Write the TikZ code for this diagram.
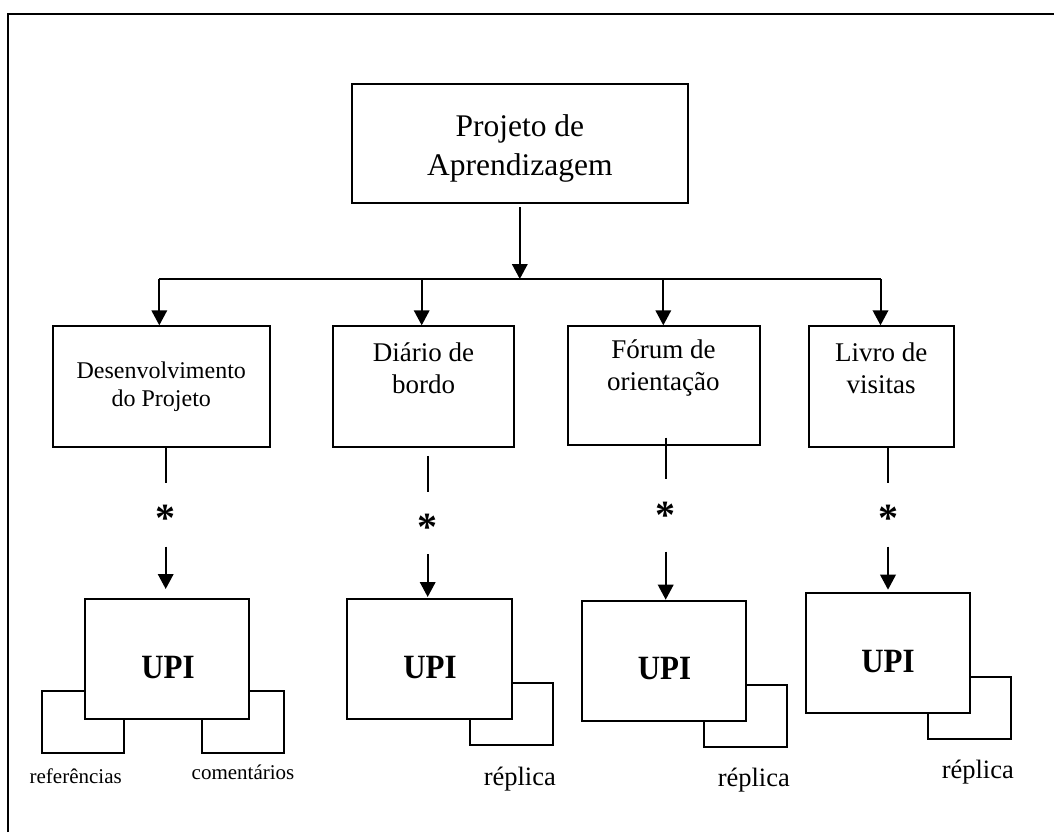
\documentclass[tikz,border=0pt]{standalone}
\usepackage{fontspec}
\setmainfont{Liberation Serif}
\usetikzlibrary{arrows.meta}
\begin{document}
\begin{tikzpicture}[x=1pt,y=-1pt,
  line width=2pt,
  box/.style={draw, line width=2pt, inner sep=0pt, fill=white},
  lbl/.style={inner sep=0pt, align=center},
  arr/.style={-{Triangle[length=15pt,width=15.5pt]}},
  ast/.style={inner sep=0pt, anchor=base, font=\fontsize{40}{40}\selectfont\bfseries},
  upi/.style={inner sep=0pt, anchor=base, font=\fontsize{34}{34}\selectfont\bfseries},
  small/.style={inner sep=0pt, anchor=base, font=\fontsize{21}{21}\selectfont},
  rep/.style={inner sep=0pt, anchor=base, font=\fontsize{26.5}{26.5}\selectfont},
]
\useasboundingbox (0,0) rectangle (1054,832);
\draw (8.3,832) -- (8.3,14) -- (1054,14);

% top box
\node[box, minimum width=336.4pt, minimum height=118.1pt] (top) at (519.8,143.45) {};
\node[lbl, font=\fontsize{31.5}{38.3}\selectfont] (ttop) at (519.8,148.6) {Projeto de\\Aprendizagem};

% second row boxes
\node[box, minimum width=216.4pt, minimum height=120.5pt] (b1) at (161.3,386.55) {};
\node[box, minimum width=180.1pt, minimum height=120.5pt] (b2) at (423.45,386.55) {};
\node[box, minimum width=191.8pt, minimum height=118.7pt] (b3) at (663.9,385.65) {};
\node[box, minimum width=144.7pt, minimum height=120.7pt] (b4) at (881.65,386.65) {};
\node[lbl, font=\fontsize{24}{27.6}\selectfont] (t1) at (161.3,386.7) {Desenvolvimento\\do Projeto};
\node[lbl, font=\fontsize{27}{32.4}\selectfont] (t2) at (423.5,368) {Diário de\\bordo};
\node[lbl, font=\fontsize{27}{32.4}\selectfont] (t3) at (663.4,368) {Fórum de\\orientação};
\node[lbl, font=\fontsize{27}{32.4}\selectfont] (t4) at (881.2,368) {Livro de\\visitas};

% connectors top
\coordinate (j) at (519.8,279);
\coordinate (d1) at (159.3,279);
\coordinate (d2) at (421.7,279);
\coordinate (d3) at (663.3,279);
\coordinate (d4) at (880.5,279);
\draw[arr, shorten <=3.5pt] (top.south) -- (j);
\draw (d1) -- (d4);
\draw[arr] (d1) -- (d1 |- b1.north);
\draw[arr] (d2) -- (d2 |- b2.north);
\draw[arr] (d3) -- (d3 |- b3.north);
\draw[arr] (d4) -- (d4 |- b4.north);

% small boxes (behind)
\node[box, minimum width=82.7pt, minimum height=62pt] (r1a) at (83.05,721.7) {};
\node[box, minimum width=82.7pt, minimum height=62pt] (r1b) at (243,721.7) {};
\node[box, minimum width=82.7pt, minimum height=62pt] (r2) at (511.35,714) {};
\node[box, minimum width=82.7pt, minimum height=62pt] (r3) at (745.5,715.85) {};
\node[box, minimum width=82.7pt, minimum height=62pt] (r4) at (969.65,707.85) {};

% UPI boxes
\node[box, minimum width=164.3pt, minimum height=120pt] (u1) at (167.15,659) {};
\node[box, minimum width=164.7pt, minimum height=120pt] (u2) at (429.65,659) {};
\node[box, minimum width=164.3pt, minimum height=120pt] (u3) at (663.85,660.7) {};
\node[box, minimum width=164.3pt, minimum height=120pt] (u4) at (887.85,652.7) {};
\node[upi] (tu1) at (168,678) {\scalebox{0.91}[1]{UPI}};
\node[upi] (tu2) at (430,678) {\scalebox{0.91}[1]{UPI}};
\node[upi] (tu3) at (664.5,679.5) {\scalebox{0.91}[1]{UPI}};
\node[upi] (tu4) at (888,672) {\scalebox{0.91}[1]{UPI}};

% asterisks
\node[ast] (s1) at (165.7,531.8) {*};
\node[ast] (s2) at (427.7,540.5) {*};
\node[ast] (s3) at (665.7,528.8) {*};
\node[ast] (s4) at (888,531.8) {*};

% lower connectors
\coordinate (l1a) at (165.7,483);   \coordinate (l1b) at (165.7,546.5);
\coordinate (l2a) at (427.7,491.7); \coordinate (l2b) at (427.7,554);
\coordinate (l3a) at (665.7,478.7); \coordinate (l3b) at (665.7,551.7);
\coordinate (l4a) at (888,483.3);   \coordinate (l4b) at (888,546.7);
\draw (l1a |- b1.south) -- (l1a);
\draw[shorten <=8pt] (l2a |- b2.south) -- (l2a);
\draw[shorten <=-8.3pt] (l3a |- b3.south) -- (l3a);
\draw (l4a |- b4.south) -- (l4a);
\draw[arr, shorten >=9pt] (l1b) -- (l1b |- u1.north);
\draw[arr, shorten >=1pt] (l2b) -- (l2b |- u2.north);
\draw[arr] (l3b) -- (l3b |- u3.north);
\draw[arr, shorten >=2pt] (l4b) -- (l4b |- u4.north);

% labels
\node[small] (lr) at (75.7,783) {referências};
\node[small] (lc) at (243,779) {comentários};
\node[rep] (p2) at (519.8,785) {réplica};
\node[rep] (p3) at (753.8,786.7) {réplica};
\node[rep] (p4) at (977.8,778) {réplica};
\end{tikzpicture}
\end{document}
